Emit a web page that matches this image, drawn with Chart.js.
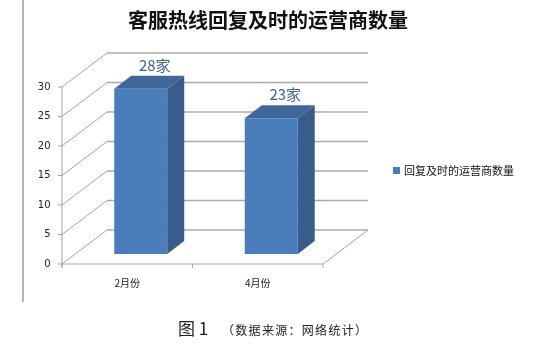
<!DOCTYPE html>
<html>
<head>
<meta charset="utf-8">
<script src="https://cdn.jsdelivr.net/npm/chart.js@4/dist/chart.umd.min.js"></script>
<style>
  html, body { margin: 0; padding: 0; background: #fff; }
  #wrap { width: 536px; height: 353px; }
</style>
</head>
<body>
<div id="wrap"><canvas id="c" width="536" height="353"></canvas></div>
<script>
// Data
const categories = ['2月份', '4月份'];
const operatorCounts = [28, 23];
const seriesName = '回复及时的运营商数量';
const chartTitle = '客服热线回复及时的运营商数量';
const yTicks = [0, 5, 10, 15, 20, 25, 30];
const valueSuffix = '家';
const captionNumber = '图 1';
const captionSource = '（数据来源：网络统计）';

// 3D box geometry, relative to the plane the bar fronts sit on
const FRONT = { dx: -13.5, dy: 10 };   // front edge of the floor / side wall
const BACK = { dx: 31.5, dy: -24 };    // back wall
const BAR_DEPTH = { dx: 17, dy: -13 }; // depth of each bar

const CJK = '"Noto Sans CJK SC", "Noto Sans", sans-serif';
const BAR_COLOR = '#4A7EBB';

function line(ctx, x1, y1, x2, y2) {
  ctx.beginPath();
  ctx.moveTo(x1, y1);
  ctx.lineTo(x2, y2);
  ctx.stroke();
}
function poly(ctx, pts) {
  ctx.beginPath();
  pts.forEach((p, i) => (i ? ctx.lineTo(p[0], p[1]) : ctx.moveTo(p[0], p[1])));
  ctx.closePath();
  ctx.fill();
}

// Walls, floor and axis lines of the 3D box, drawn behind the bars
const boxWalls = {
  id: 'boxWalls',
  beforeDatasetsDraw(chart) {
    const { ctx, chartArea: a, scales: { x, y } } = chart;
    ctx.save();
    // back wall gridlines
    ctx.strokeStyle = '#ababab';
    ctx.lineWidth = 1.6;
    yTicks.forEach(v => {
      const p = y.getPixelForValue(v);
      line(ctx, a.left + BACK.dx, p + BACK.dy, a.right + BACK.dx, p + BACK.dy);
    });
    // side wall gridlines and value ticks
    ctx.lineWidth = 1;
    ctx.strokeStyle = '#a3a3a3';
    yTicks.forEach(v => {
      const p = y.getPixelForValue(v);
      line(ctx, a.left + FRONT.dx, p + FRONT.dy, a.left + BACK.dx, p + BACK.dy);
      line(ctx, a.left + FRONT.dx - 4, p + FRONT.dy, a.left + FRONT.dx, p + FRONT.dy);
    });
    const p0 = y.getPixelForValue(yTicks[0]);
    const pTop = y.getPixelForValue(yTicks[yTicks.length - 1]);
    // value axis
    line(ctx, a.left + FRONT.dx, pTop + FRONT.dy, a.left + FRONT.dx, p0 + FRONT.dy + 4);
    // floor front and right edges
    line(ctx, a.left + FRONT.dx, p0 + FRONT.dy, a.right + FRONT.dx, p0 + FRONT.dy);
    line(ctx, a.right + FRONT.dx, p0 + FRONT.dy, a.right + BACK.dx, p0 + BACK.dy);
    // category boundary ticks
    const bounds = [a.left];
    for (let i = 1; i < categories.length; i++) {
      bounds.push((x.getPixelForValue(i - 1) + x.getPixelForValue(i)) / 2);
    }
    bounds.push(a.right);
    bounds.forEach(b => line(ctx, b + FRONT.dx, p0 + FRONT.dy, b + FRONT.dx, p0 + FRONT.dy + 4));
    ctx.restore();
  }
};

// Side and top faces of each bar, plus the value labels
const barFaces = {
  id: 'barFaces',
  afterDatasetsDraw(chart) {
    const { ctx } = chart;
    const meta = chart.getDatasetMeta(0);
    const values = chart.data.datasets[0].data;
    ctx.save();
    meta.data.forEach((bar, i) => {
      const { x: cx, y: top, base, width } = bar.getProps(['x', 'y', 'base', 'width'], true);
      const l = cx - width / 2, r = cx + width / 2;
      ctx.fillStyle = '#385D8A';
      poly(ctx, [[r, top], [r + BAR_DEPTH.dx, top + BAR_DEPTH.dy], [r + BAR_DEPTH.dx, base + BAR_DEPTH.dy], [r, base]]);
      ctx.fillStyle = '#3F679A';
      poly(ctx, [[l, top], [l + BAR_DEPTH.dx, top + BAR_DEPTH.dy], [r + BAR_DEPTH.dx, top + BAR_DEPTH.dy], [r, top]]);
      ctx.fillStyle = '#3F5F8F';
      ctx.font = '15px ' + CJK;
      ctx.textAlign = 'center';
      ctx.textBaseline = 'middle';
      ctx.fillText(values[i] + valueSuffix, cx + 14, top - 24);
    });
    ctx.restore();
  }
};

// Series key to the right of the plot
const seriesKey = {
  id: 'seriesKey',
  afterDraw(chart) {
    const { ctx } = chart;
    const ds = chart.data.datasets[0];
    ctx.save();
    ctx.fillStyle = ds.backgroundColor;
    ctx.fillRect(393, 167, 7, 7);
    ctx.fillStyle = '#111';
    ctx.font = '11px ' + CJK;
    ctx.textAlign = 'left';
    ctx.textBaseline = 'middle';
    ctx.fillText(ds.label, 404, 170.5);
    ctx.restore();
  }
};

// Page frame line and figure caption
const pageDecor = {
  id: 'pageDecor',
  beforeDraw(chart) {
    const { ctx } = chart;
    ctx.save();
    ctx.fillStyle = '#fff';
    ctx.fillRect(0, 0, chart.width, chart.height);
    ctx.restore();
  },
  afterDraw(chart) {
    const { ctx } = chart;
    ctx.save();
    ctx.fillStyle = '#b5b5b5';
    ctx.fillRect(22, 0, 2, 302);
    ctx.fillStyle = '#222';
    ctx.textBaseline = 'middle';
    ctx.textAlign = 'left';
    ctx.font = '17px ' + CJK;
    ctx.fillText(captionNumber, 178, 329);
    ctx.font = '12px ' + CJK;
    [...captionSource].forEach((ch, i) => ctx.fillText(ch, 222 + i * 13.3, 330));
    ctx.restore();
  }
};

new Chart(document.getElementById('c'), {
  type: 'bar',
  data: {
    labels: categories,
    datasets: [{
      label: seriesName,
      data: operatorCounts,
      backgroundColor: BAR_COLOR,
      borderWidth: 0,
      categoryPercentage: 1,
      barPercentage: 0.406
    }]
  },
  options: {
    responsive: false,
    devicePixelRatio: 1,
    animation: false,
    layout: { padding: 0 },
    plugins: {
      title: {
        display: true,
        text: chartTitle,
        color: '#111',
        font: { family: CJK, size: 20, weight: 'bold' },
        padding: { top: 8, bottom: 45 }
      },
      legend: { display: false },
      tooltip: { enabled: false }
    },
    scales: {
      x: {
        grid: { display: false, drawTicks: false },
        border: { display: false },
        ticks: {
          color: '#222',
          font: { family: CJK, size: 10 },
          padding: 23,
          labelOffset: FRONT.dx,
          maxRotation: 0
        },
        afterFit(scale) { scale.height = 99; }
      },
      y: {
        min: yTicks[0],
        max: yTicks[yTicks.length - 1],
        grid: { display: false, drawTicks: false },
        border: { display: false },
        ticks: {
          stepSize: 5,
          color: '#222',
          font: { family: '"DejaVu Sans", sans-serif', size: 10 },
          padding: 25,
          labelOffset: FRONT.dy
        },
        afterFit(scale) { scale.width = 75.5; }
      },
      // empty right-hand band that holds the back wall depth and the series key
      side: {
        type: 'linear',
        position: 'right',
        grid: { display: false, drawTicks: false },
        border: { display: false },
        ticks: { display: false },
        afterFit(scale) { scale.width = 199.5; }
      }
    }
  },
  plugins: [pageDecor, boxWalls, barFaces, seriesKey]
});
</script>
</body>
</html>
